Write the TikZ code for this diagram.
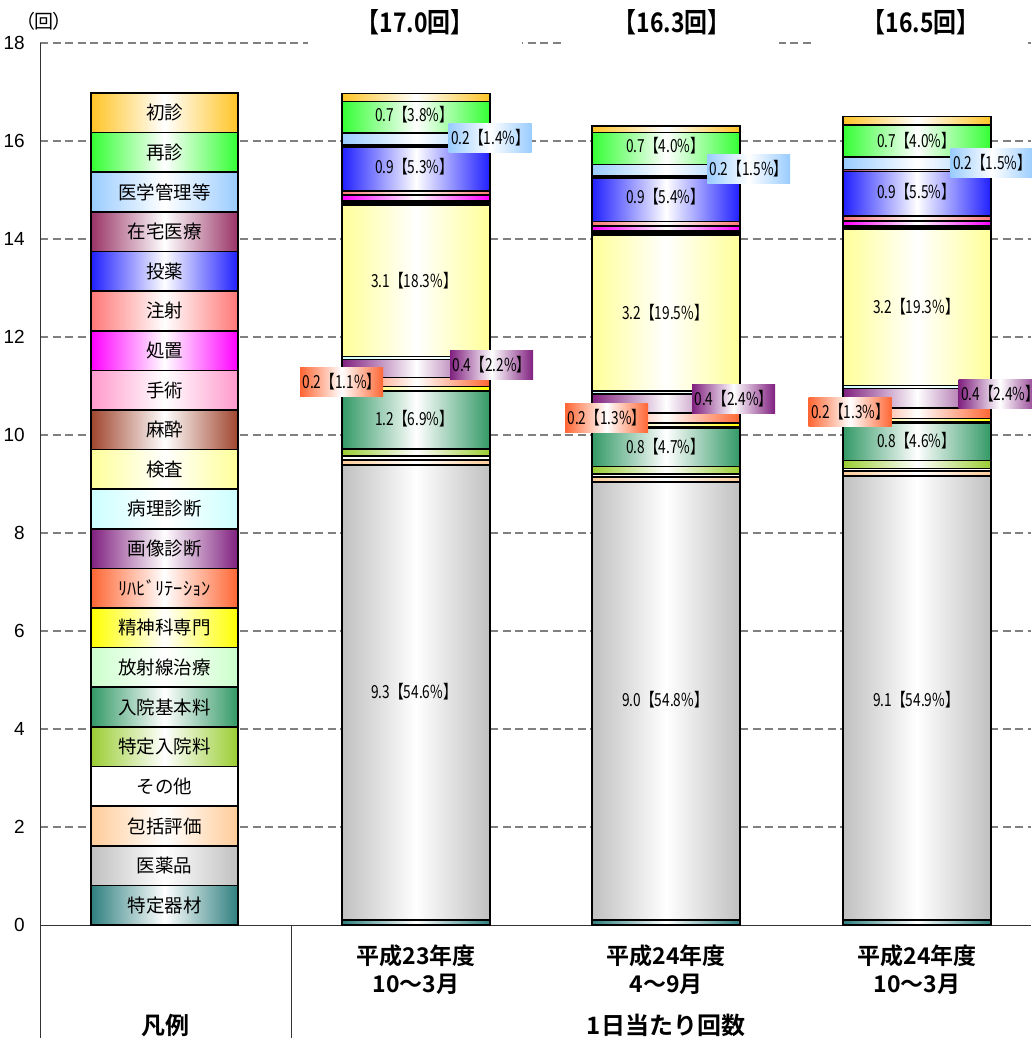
\documentclass[tikz,border=0pt]{standalone}
\usepackage{fontspec}
\setmainfont{Noto Sans CJK JP}
\newfontfamily\jpn{Noto Sans CJK JP}
\newfontfamily\jpnarrow[FakeStretch=0.76]{Noto Sans CJK JP}
\newfontfamily\jppalt[RawFeature=+palt]{Noto Sans CJK JP}
\newfontfamily\jpbold[UprightFont=* Bold]{Noto Sans CJK JP}
\newfontfamily\jpboldnarrow[UprightFont=* Bold,FakeStretch=0.85]{Noto Sans CJK JP}
\newfontfamily\libsans{Liberation Sans}
\definecolor{c1}{HTML}{2F7F7F}
\definecolor{c2}{HTML}{C0C0C0}
\definecolor{c3}{HTML}{FFCC99}
\definecolor{c4}{HTML}{FFFFFF}
\definecolor{c5}{HTML}{9ACD32}
\definecolor{c6}{HTML}{339966}
\definecolor{c7}{HTML}{CCFFCC}
\definecolor{c8}{HTML}{FFFF00}
\definecolor{c9}{HTML}{FF6633}
\definecolor{c10}{HTML}{80207F}
\definecolor{c11}{HTML}{CCFFFF}
\definecolor{c12}{HTML}{FFFF99}
\definecolor{c13}{HTML}{A0452E}
\definecolor{c14}{HTML}{FF99CC}
\definecolor{c15}{HTML}{FF00FF}
\definecolor{c16}{HTML}{FF7777}
\definecolor{c17}{HTML}{2020FF}
\definecolor{c18}{HTML}{993366}
\definecolor{c19}{HTML}{99CCFF}
\definecolor{c20}{HTML}{33FF33}
\definecolor{c21}{HTML}{FFC425}
\definecolor{gridgray}{HTML}{808080}
\newcommand\drawbar[2]{%
  \gdef\cumv{0}%
  \foreach \v [count=\i] in {#2} {%
    \pgfmathsetmacro\ya{925-49*\cumv}%
    \pgfmathsetmacro\yb{925-49*(\cumv+\v)}%
    \path[seg, left color=c\i, right color=c\i, middle color=white] (#1,\ya) rectangle (#1+148,\yb);%
    \pgfmathsetmacro\newcum{\cumv+\v}%
    \xdef\cumv{\newcum}%
  }%
}
\begin{document}
\begin{tikzpicture}[x=1pt,y=-1pt,
  gridline/.style={draw=gridgray, line width=1.3, dash pattern=on 8pt off 4.5pt},
  axisline/.style={draw=black!80, line width=1},
  seg/.style={draw=black, line width=1.6},
  legbox/.style={draw=black, line width=1.6, minimum width=147, minimum height=39.62, inner sep=0, font=\jpn\fontsize{18.5}{19}\selectfont},
  barlbl/.style={inner sep=0, font=\jpnarrow\fontsize{18}{19}\selectfont},
  callout/.style={inner sep=0, minimum width=83, minimum height=29, font=\jpnarrow\fontsize{18}{19}\selectfont},
  ticklbl/.style={anchor=east, inner sep=0, font=\libsans\fontsize{19}{21}\selectfont},
  headlbl/.style={fill=white, minimum width=214, minimum height=46, inner sep=0, font=\jpboldnarrow\fontsize{27}{29}\selectfont},
  catlbl/.style={align=center, inner sep=0, font=\jpbold\fontsize{23}{28}\selectfont},
  titlelbl/.style={inner sep=0, font=\jpbold\fontsize{24}{26}\selectfont}]
\useasboundingbox (0,0) rectangle (1031,1038);
\fill[white] (0,0) rectangle (1031,1038);
% grid
\foreach \k in {2,4,...,18} {
  \draw[gridline] (40,{925-49*\k}) -- (1031,{925-49*\k});
  \node[ticklbl] (tick\k) at (25,{925-49*\k}) {\k};
}
\node[ticklbl] (tick0) at (25,925) {0};
\node[inner sep=0, font=\jppalt\fontsize{19}{21}\selectfont] (unit) at (44,21) {（回）};
% axes
\draw[axisline] (40,43) -- (40,1038);
\draw[axisline] (40,925) -- (1031,925);
\draw[axisline] (291,925) -- (291,1038);
% headers
\node[headlbl] (h1) at (415,22) {【17.0回】};
\node[headlbl] (h2) at (672,22) {【16.3回】};
\node[headlbl] (h3) at (921,22) {【16.5回】};
% legend
\foreach \t [count=\i] in {特定器材,医薬品,包括評価,その他,特定入院料,入院基本料,放射線治療,精神科専門,ﾘﾊﾋﾞﾘﾃｰｼｮﾝ,画像診断,病理診断,検査,麻酔,手術,処置,注射,投薬,在宅医療,医学管理等,再診,初診}
  \node[legbox, left color=c\i, right color=c\i, middle color=white] (leg\i) at (164.5,{925-39.62*(\i-0.5)}) {\t};
% bars
\drawbar{342}{0.10,9.29,0.10,0.08,0.14,1.18,0.02,0.08,0.18,0.37,0.06,3.10,0.04,0.04,0.12,0.08,0.90,0.04,0.24,0.65,0.16}
\drawbar{592}{0.10,8.94,0.10,0.06,0.16,0.78,0.02,0.08,0.21,0.39,0.06,3.18,0.04,0.04,0.10,0.10,0.88,0.04,0.24,0.65,0.13}
\drawbar{843}{0.10,9.06,0.10,0.06,0.16,0.76,0.02,0.08,0.21,0.40,0.06,3.18,0.04,0.04,0.10,0.10,0.91,0.04,0.25,0.66,0.17}
% labels inside bars
\node[barlbl] (a1) at (414,115) {0.7【3.8\%】};
\node[barlbl] (a2) at (414,167) {0.9【5.3\%】};
\node[barlbl] (a3) at (414,281) {3.1【18.3\%】};
\node[barlbl] (a4) at (414,419) {1.2【6.9\%】};
\node[barlbl] (a5) at (414,692) {9.3【54.6\%】};
\node[barlbl] (b1) at (665,146) {0.7【4.0\%】};
\node[barlbl] (b2) at (665,197) {0.9【5.4\%】};
\node[barlbl] (b3) at (665,313) {3.2【19.5\%】};
\node[barlbl] (b4) at (665,447) {0.8【4.7\%】};
\node[barlbl] (b5) at (665,700) {9.0【54.8\%】};
\node[barlbl] (d1) at (916,141) {0.7【4.0\%】};
\node[barlbl] (d2) at (916,192) {0.9【5.5\%】};
\node[barlbl] (d3) at (916,307) {3.2【19.3\%】};
\node[barlbl] (d4) at (916,441) {0.8【4.6\%】};
\node[barlbl] (d5) at (916,700) {9.1【54.9\%】};
% callouts
\node[callout, left color=c19, right color=c19, middle color=white] (ac1) at (490,138) {0.2【1.4\%】};
\node[callout, left color=c10, right color=c10, middle color=white] (ac2) at (491.5,364.5) {0.4【2.2\%】};
\node[callout, left color=c9, right color=c9, middle color=white] (ac3) at (341.5,382) {0.2【1.1\%】};
\node[callout, left color=c19, right color=c19, middle color=white] (bc1) at (748.5,168.5) {0.2【1.5\%】};
\node[callout, left color=c10, right color=c10, middle color=white] (bc2) at (733.5,398.5) {0.4【2.4\%】};
\node[callout, left color=c9, right color=c9, middle color=white] (bc3) at (606.5,417.5) {0.2【1.3\%】};
\node[callout, left color=c19, right color=c19, middle color=white] (dc1) at (992,162.5) {0.2【1.5\%】};
\node[callout, left color=c10, right color=c10, middle color=white] (dc2) at (1000,393.5) {0.4【2.4\%】};
\node[callout, left color=c9, right color=c9, middle color=white] (dc3) at (850,411.5) {0.2【1.3\%】};
% category labels
\node[catlbl] (cat1) at (416,970) {平成23年度\\10～3月};
\node[catlbl] (cat2) at (666,970) {平成24年度\\4～9月};
\node[catlbl] (cat3) at (917,970) {平成24年度\\10～3月};
\node[titlelbl] (legtitle) at (165,1025) {凡例};
\node[titlelbl] (axtitle) at (666,1025) {1日当たり回数};
\end{tikzpicture}
\end{document}
